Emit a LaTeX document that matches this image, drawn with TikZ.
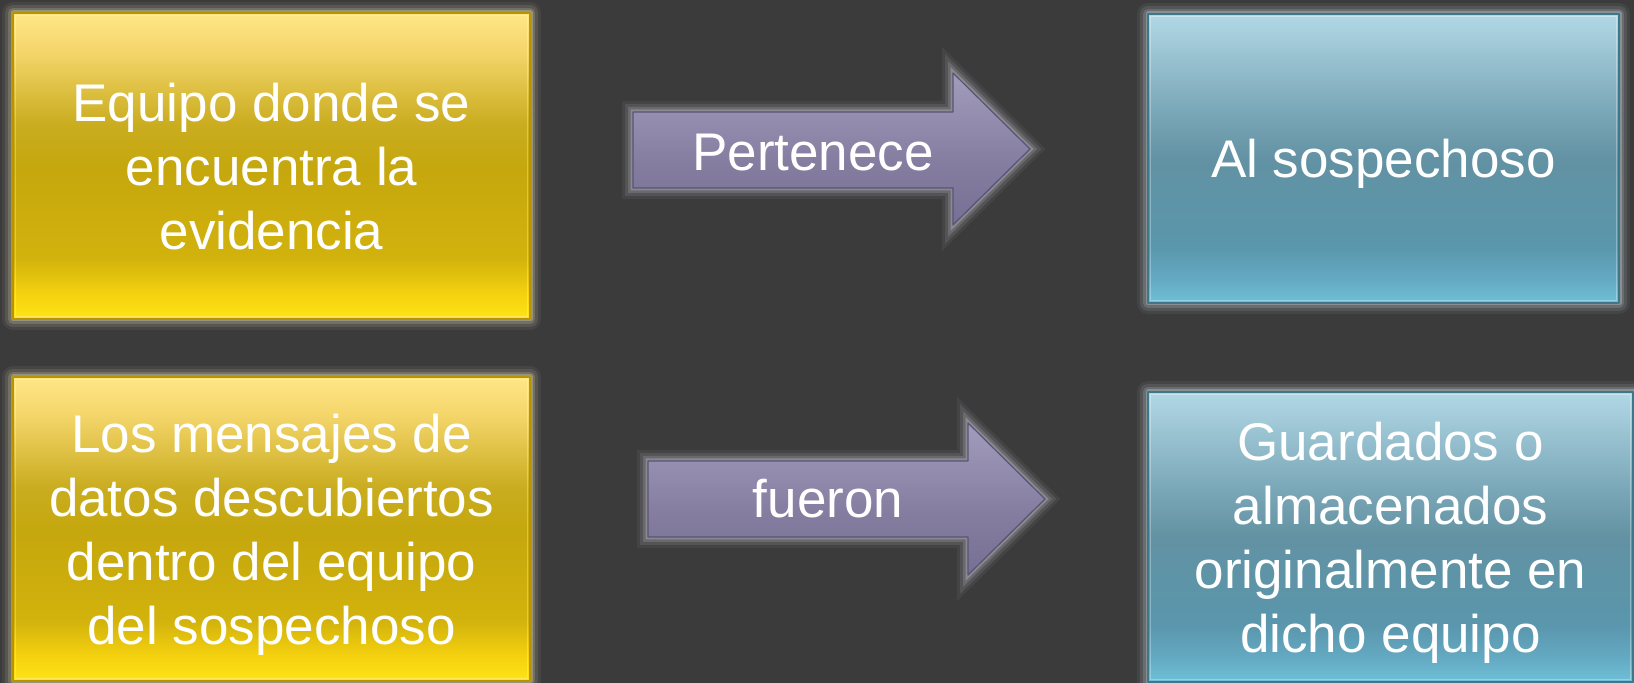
\documentclass[tikz,border=0pt]{standalone}
\usepackage{fontspec}
\setmainfont{Liberation Sans}
\definecolor{bg}{RGB}{59,59,59}
\definecolor{Ya}{RGB}{255,230,135}
\definecolor{Yb}{RGB}{245,214,108}
\definecolor{Yc}{RGB}{202,173,32}
\definecolor{Yd}{RGB}{197,167,14}
\definecolor{Ye}{RGB}{210,178,12}
\definecolor{Yf}{RGB}{245,210,15}
\definecolor{Yg}{RGB}{255,228,22}
\definecolor{Ba}{RGB}{178,216,230}
\definecolor{Bb}{RGB}{128,172,188}
\definecolor{Bc}{RGB}{98,146,163}
\definecolor{Bd}{RGB}{90,150,172}
\definecolor{Be}{RGB}{100,170,195}
\definecolor{Bf}{RGB}{112,192,216}
\definecolor{Aa}{RGB}{162,156,188}
\definecolor{Ab}{RGB}{132,125,160}
\definecolor{Ac}{RGB}{118,112,148}
\definecolor{ybord}{RGB}{185,148,0}
\definecolor{bbord}{RGB}{60,120,140}
\definecolor{abord}{RGB}{88,84,118}
\definecolor{yglow}{RGB}{255,245,200}
\definecolor{bglow}{RGB}{220,235,242}
\definecolor{aglow}{RGB}{225,220,235}
\pgfdeclareverticalshading{yshade}{100bp}{color(0bp)=(Yg); color(25bp)=(Yg); color(29bp)=(Yf); color(35bp)=(Ye); color(50bp)=(Yd); color(57bp)=(Yc); color(69bp)=(Yb); color(75bp)=(Ya); color(100bp)=(Ya)}
\pgfdeclareverticalshading{bshade}{100bp}{color(0bp)=(Bf); color(25bp)=(Bf); color(29bp)=(Be); color(35bp)=(Bd); color(50bp)=(Bc); color(60bp)=(Bb); color(75bp)=(Ba); color(100bp)=(Ba)}
\pgfdeclareverticalshading{ashade}{100bp}{color(0bp)=(Ac); color(25bp)=(Ac); color(45bp)=(Ab); color(75bp)=(Aa); color(100bp)=(Aa)}
\tikzset{
  glow/.style={line join=round,
    preaction={draw=#1,line width=11pt,draw opacity=0.06},
    preaction={draw=#1,line width=8pt,draw opacity=0.1},
    preaction={draw=#1,line width=5pt,draw opacity=0.16},
    preaction={draw=#1,line width=2.5pt,draw opacity=0.28}},
  boxtext/.style={text=white,align=center,inner sep=0pt,outer sep=0pt,text depth=0pt,
    font=\fontsize{26.5}{32}\selectfont},
  ybox/.style={boxtext,rectangle,glow=yglow,shading=yshade,draw=ybord,line width=0.7pt},
  bbox/.style={boxtext,rectangle,glow=bglow,shading=bshade,draw=bbord,line width=0.7pt},
  bevel/.style={draw=white,draw opacity=0.3,line width=0.8pt},
  blockarrow/.style={glow=aglow,shading=ashade,draw=abord,line width=0.6pt},
  arrowtext/.style={text=white,inner sep=0pt,anchor=base,font=\fontsize{26.5}{32}\selectfont}
}
\begin{document}
\begin{tikzpicture}[x=0.5pt,y=-0.5pt]
\fill[bg] (0,0) rectangle (1634,683);
\useasboundingbox (0,0) rectangle (1634,683);

\node[ybox,minimum width=258.5pt,minimum height=153pt] (tl) at (271.5,166)
  {Equipo donde se\\encuentra la\\evidencia};
\node[bbox,minimum width=235.5pt,minimum height=144.5pt] (tr) at (1383.5,158.5)
  {Al sospechoso};
\node[ybox,minimum width=258.5pt,minimum height=152pt] (bl) at (271.5,529)
  {Los mensajes de\\datos descubiertos\\dentro del equipo\\del sospechoso};
\node[bbox,minimum width=242.5pt,minimum height=145pt] (br) at (1390.5,537)
  {Guardados o\\almacenados\\originalmente en\\dicho equipo};

\foreach \b in {tl,tr,bl,br}
  \draw[bevel] ([shift={(1.2pt,-1.2pt)}]\b.north west) rectangle ([shift={(-1.2pt,1.2pt)}]\b.south east);

% top block arrow
\coordinate (a1tip) at (1030,149);
\path[blockarrow] (633,112) -- (953,112) -- (953,73) -- (a1tip) -- (953,225)
  -- (953,188) -- (633,188) -- cycle;
\node[arrowtext] (a1) at (813,171) {Pertenece};

% bottom block arrow
\coordinate (a2tip) at (1045,499);
\path[blockarrow] (648,461) -- (968,461) -- (968,423) -- (a2tip) -- (968,575)
  -- (968,537) -- (648,537) -- cycle;
\node[arrowtext] (a2) at (828,518) {fueron};
\end{tikzpicture}
\end{document}
